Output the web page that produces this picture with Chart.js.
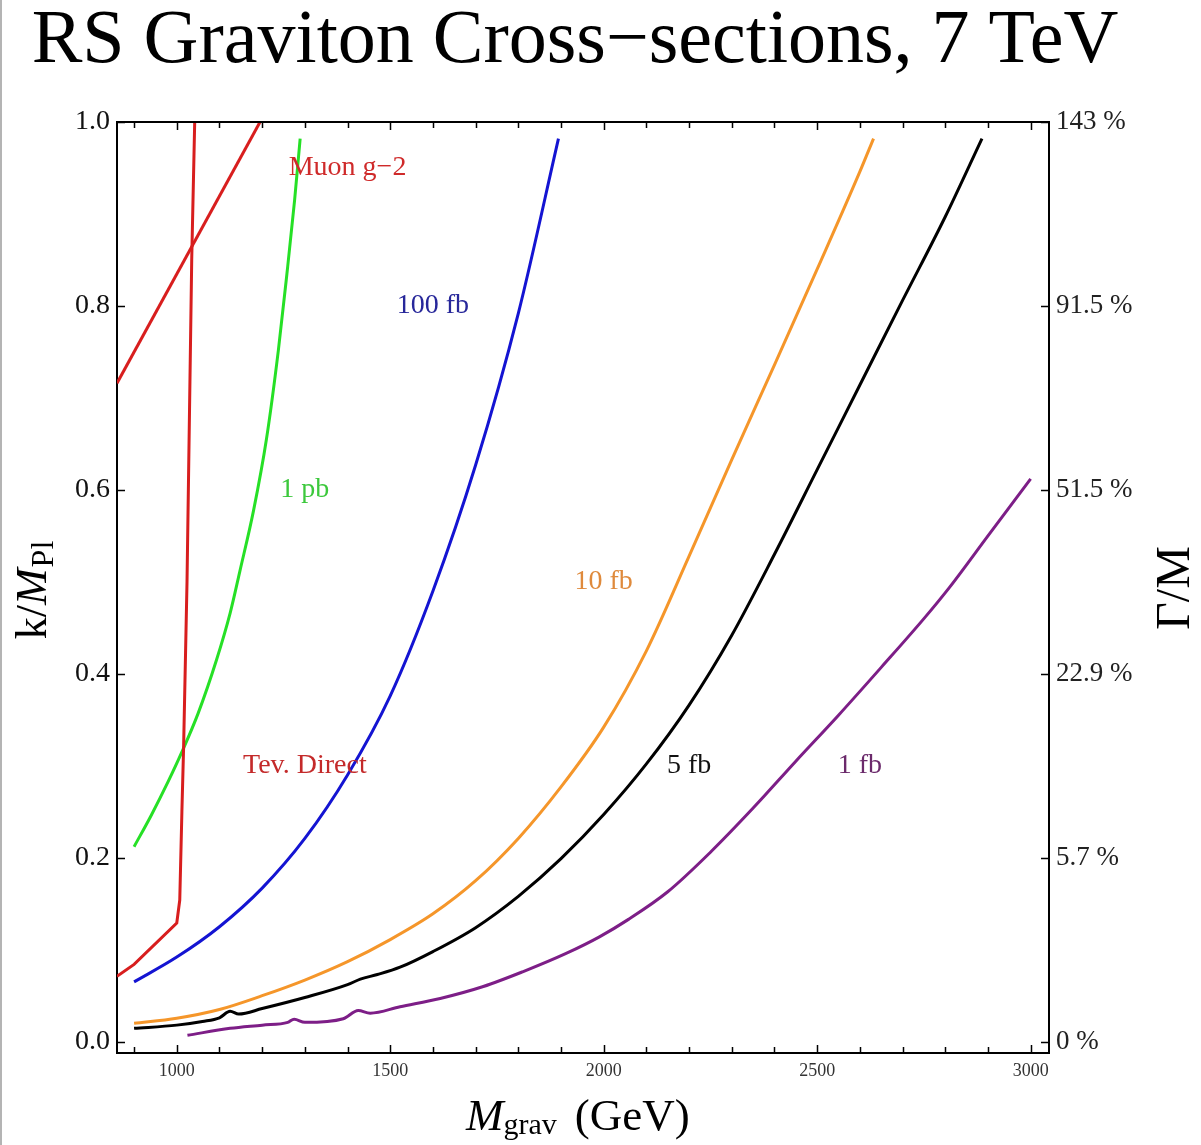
<!DOCTYPE html>
<html lang="en">
<head>
<meta charset="UTF-8">
<title>RS Graviton Cross-sections, 7 TeV</title>
<script src="https://cdn.jsdelivr.net/npm/chart.js"></script>
<style>
  body { margin: 0; background: #fff; }
  canvas { display: block; }
</style>
</head>
<body>
<canvas id="gravitonChart" width="1201" height="1145"></canvas>
<script>
// contours in the (M_grav, k/M_Pl) plane, mass in GeV
const tevMass = [860, 900, 1000, 1007, 1012, 1016, 1024, 1035, 1042];
const tevK    = [0.071, 0.084, 0.129, 0.154, 0.250, 0.320, 0.500, 0.850, 1.000];

const muonMass = [860, 1195];
const muonK    = [0.716, 1.000];

const pb1Mass = [900, 940, 980, 1011, 1050, 1093, 1125, 1148, 1180, 1210, 1238, 1258, 1276, 1289];
const pb1K    = [0.212, 0.246, 0.283, 0.314, 0.357, 0.415, 0.466, 0.512, 0.578, 0.655, 0.752, 0.835, 0.915, 0.982];

const fb100Mass = [900, 1000, 1100, 1200, 1300, 1400, 1500, 1600, 1700, 1800, 1894];
const fb100K    = [0.065, 0.092, 0.125, 0.167, 0.221, 0.290, 0.376, 0.490, 0.627, 0.792, 0.982];

const fb10Mass = [900, 1000, 1100, 1200, 1300, 1400, 1500, 1600, 1700, 1800, 1900, 2000, 2100, 2200, 2300, 2400, 2500, 2600, 2632];
const fb10K    = [0.020, 0.0255, 0.035, 0.050, 0.067, 0.087, 0.111, 0.139, 0.175, 0.221, 0.277, 0.342, 0.425, 0.528, 0.633, 0.736, 0.840, 0.946, 0.982];

const fb5Mass = [900, 1000, 1060, 1100, 1125, 1145, 1200, 1300, 1400, 1430, 1470, 1523, 1600, 1700, 1800, 1900, 2000, 2100, 2200, 2300, 2400, 2500, 2600, 2700, 2800, 2886];
const fb5K    = [0.0145, 0.018, 0.022, 0.026, 0.033, 0.030, 0.036, 0.048, 0.062, 0.068, 0.073, 0.081, 0.098, 0.124, 0.158, 0.199, 0.247, 0.302, 0.366, 0.442, 0.530, 0.622, 0.714, 0.806, 0.897, 0.982];

const fb1Mass = [1025, 1125, 1200, 1260, 1275, 1300, 1390, 1425, 1453, 1523, 1617, 1718, 1810, 1912, 1990, 2058, 2150, 2250, 2350, 2450, 2550, 2650, 2750, 2810, 2900, 3000];
const fb1K    = [0.007, 0.0145, 0.018, 0.021, 0.0245, 0.021, 0.025, 0.034, 0.031, 0.038, 0.047, 0.060, 0.076, 0.096, 0.114, 0.133, 0.163, 0.206, 0.254, 0.305, 0.355, 0.407, 0.460, 0.494, 0.550, 0.612];

// axes
const massTicks = [1000, 1500, 2000, 2500, 3000];
const kTicks = [0.0, 0.2, 0.4, 0.6, 0.8, 1.0];
const widthTicks = ['0 %', '5.7 %', '22.9 %', '51.5 %', '91.5 %', '143 %'];

// contour labels: text, anchor (mass, k), colour
const curveLabels = [
  ['Muon g\u22122', 1400, 0.95, '#cf2a2a'],
  ['100 fb', 1600, 0.80, '#27279a'],
  ['1 pb', 1300, 0.60, '#3cc83c'],
  ['10 fb', 2000, 0.50, '#df8a3c'],
  ['Tev. Direct', 1300, 0.30, '#c42a2a'],
  ['5 fb', 2200, 0.30, '#111111'],
  ['1 fb', 2600, 0.30, '#6b2a6b']
];

const SERIF = '"Liberation Serif", "DejaVu Serif", serif';

function zip(xs, ys) {
  return xs.map((m, i) => ({ x: m, y: ys[i] }));
}

function curve(xs, ys, color, smooth) {
  return {
    data: zip(xs, ys),
    showLine: true,
    borderColor: color,
    borderWidth: 3,
    pointRadius: 0,
    tension: 0,
    cubicInterpolationMode: smooth ? 'monotone' : 'default'
  };
}

// draws a sequence of text pieces (font + baseline shift) starting at x
function drawRuns(ctx, runs, x, y) {
  let cx = x;
  runs.forEach(r => {
    ctx.font = r.font;
    ctx.fillText(r.text, cx, y + (r.dy || 0));
    cx += ctx.measureText(r.text).width + (r.gap || 0);
  });
  return cx - x;
}

function runsWidth(ctx, runs) {
  let w = 0;
  runs.forEach(r => {
    ctx.font = r.font;
    w += ctx.measureText(r.text).width + (r.gap || 0);
  });
  return w;
}

const decorations = {
  id: 'decorations',
  beforeDraw(chart) {
    const { ctx, width, height } = chart;
    ctx.save();
    ctx.fillStyle = '#fff';
    ctx.fillRect(0, 0, width, height);
    ctx.fillStyle = '#b4b4b4';
    ctx.fillRect(0, 0, 2, height);
    ctx.restore();
  },
  afterDraw(chart) {
    const { ctx, chartArea: area, scales: { x, y } } = chart;
    ctx.save();
    ctx.strokeStyle = '#000';
    ctx.lineWidth = 2;
    ctx.beginPath();
    ctx.moveTo(area.left - 1, area.top);
    ctx.lineTo(area.right + 1, area.top);
    ctx.stroke();

    // inward tick marks on the frame
    ctx.lineWidth = 1.5;
    ctx.beginPath();
    for (let m = 900; m <= 3000; m += 100) {
      const px = Math.round(x.getPixelForValue(m)) + 0.5;
      const len = m % 500 === 0 ? 8 : 6;
      ctx.moveTo(px, area.bottom);
      ctx.lineTo(px, area.bottom - len);
      ctx.moveTo(px, area.top);
      ctx.lineTo(px, area.top + len);
    }
    kTicks.forEach(v => {
      const py = Math.round(y.getPixelForValue(v)) + 0.5;
      ctx.moveTo(area.left, py);
      ctx.lineTo(area.left + 8, py);
      ctx.moveTo(area.right, py);
      ctx.lineTo(area.right - 8, py);
    });
    ctx.stroke();

    // contour labels
    ctx.font = '28px ' + SERIF;
    ctx.textAlign = 'center';
    ctx.textBaseline = 'middle';
    curveLabels.forEach(([text, m, k, color]) => {
      ctx.fillStyle = color;
      ctx.fillText(text, x.getPixelForValue(m), y.getPixelForValue(k));
    });

    // title
    ctx.fillStyle = '#000';
    ctx.textBaseline = 'alphabetic';
    ctx.font = '76px ' + SERIF;
    ctx.fillText('RS Graviton Cross\u2212sections, 7 TeV', 575, 62);

    // x axis title
    ctx.textAlign = 'left';
    drawRuns(ctx, [
      { text: 'M', font: 'italic 45px ' + SERIF },
      { text: 'grav', font: '30px ' + SERIF, dy: 4, gap: 18 },
      { text: '(GeV)', font: '45px ' + SERIF }
    ], 466, 1130);

    // left axis title, reading upwards
    const kRuns = [
      { text: 'k/', font: '44px ' + SERIF },
      { text: 'M', font: 'italic 44px ' + SERIF, gap: 1 },
      { text: 'Pl', font: '32px ' + SERIF, dy: 7 }
    ];
    ctx.save();
    ctx.translate(46, 590);
    ctx.rotate(-Math.PI / 2);
    drawRuns(ctx, kRuns, -runsWidth(ctx, kRuns) / 2, 0);
    ctx.restore();

    // right axis title, reading upwards
    ctx.save();
    ctx.translate(1189, 588);
    ctx.rotate(-Math.PI / 2);
    ctx.textAlign = 'center';
    ctx.font = '48px ' + SERIF;
    ctx.fillText('\u0393/M', 0, 0);
    ctx.restore();

    ctx.restore();
  }
};

new Chart(document.getElementById('gravitonChart'), {
  type: 'scatter',
  data: {
    datasets: [
      curve(tevMass, tevK, '#d81e1e', false),
      curve(muonMass, muonK, '#d81e1e', false),
      curve(pb1Mass, pb1K, '#26e026', true),
      curve(fb100Mass, fb100K, '#1414d2', true),
      curve(fb10Mass, fb10K, '#f5962a', true),
      curve(fb5Mass, fb5K, '#000000', true),
      curve(fb1Mass, fb1K, '#7d1e87', true)
    ]
  },
  options: {
    responsive: false,
    animation: false,
    devicePixelRatio: 1,
    layout: { padding: { top: 122, left: 0, right: 0, bottom: 0 } },
    plugins: {
      legend: { display: false },
      tooltip: { enabled: false }
    },
    scales: {
      x: {
        type: 'linear',
        position: 'bottom',
        min: 860,
        max: 3043,
        grid: { display: false, drawTicks: false },
        border: { display: true, color: '#000', width: 2 },
        ticks: {
          autoSkip: false,
          maxRotation: 0,
          padding: 7,
          color: '#333',
          font: { family: SERIF, size: 18 },
          callback: v => String(v)
        },
        afterBuildTicks: s => { s.ticks = massTicks.map(v => ({ value: v })); },
        afterFit: s => { s.height = 92; }
      },
      y: {
        position: 'left',
        min: -0.0123,
        max: 1.0,
        grid: { display: false, drawTicks: false },
        border: { display: true, color: '#000', width: 2 },
        ticks: {
          autoSkip: false,
          padding: 7,
          color: '#111',
          font: { family: SERIF, size: 28 },
          callback: v => v.toFixed(1)
        },
        afterBuildTicks: s => { s.ticks = kTicks.map(v => ({ value: v })); },
        afterFit: s => { s.width = 117; }
      },
      y2: {
        position: 'right',
        min: -0.0123,
        max: 1.0,
        grid: { display: false, drawTicks: false },
        border: { display: true, color: '#000', width: 2 },
        ticks: {
          autoSkip: false,
          padding: 7,
          color: '#222',
          font: { family: SERIF, size: 27 },
          callback: (v, i) => widthTicks[i]
        },
        afterBuildTicks: s => { s.ticks = kTicks.map(v => ({ value: v })); },
        afterFit: s => { s.width = 152; }
      }
    }
  },
  plugins: [decorations]
});
</script>
</body>
</html>
